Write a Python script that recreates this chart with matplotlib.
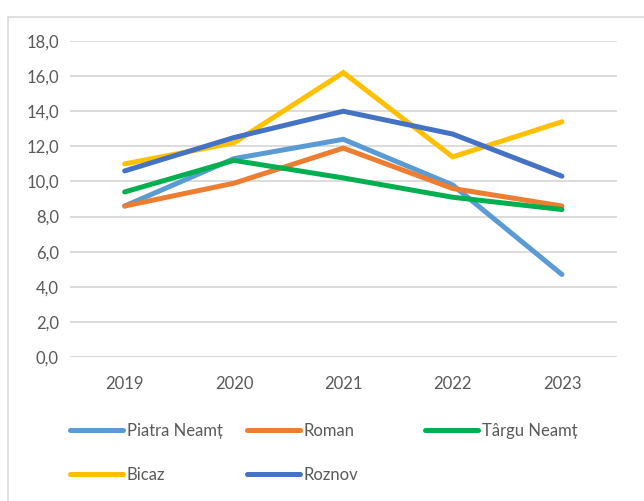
import matplotlib
matplotlib.use("Agg")
import matplotlib.pyplot as plt
from matplotlib.lines import Line2D
from matplotlib.patches import Rectangle
from matplotlib.ticker import FuncFormatter

years = ["2019", "2020", "2021", "2022", "2023"]
piatra_neamt = [8.6, 11.3, 12.4, 9.8, 4.7]
roman = [8.6, 9.9, 11.9, 9.6, 8.6]
targu_neamt = [9.4, 11.2, 10.2, 9.1, 8.4]
bicaz = [11.0, 12.2, 16.2, 11.4, 13.4]
roznov = [10.6, 12.5, 14.0, 12.7, 10.3]

series = [
    ("Piatra Neamț", piatra_neamt, "#5B9BD5"),
    ("Roman", roman, "#ED7D31"),
    ("Târgu Neamț", targu_neamt, "#00B050"),
    ("Bicaz", bicaz, "#FFC000"),
    ("Roznov", roznov, "#4472C4"),
]

plt.rcParams['font.family'] = ['Lato', 'DejaVu Sans']
text_color = "#595959"
fs = 12

fig = plt.figure(figsize=(6.44, 5.01), dpi=100)
# outer chart frame (partially cut)
fig.patches.append(Rectangle((8/644, -0.1), 1.0, 1 - 17/501 + 0.1, transform=fig.transFigure,
                             fill=False, edgecolor="#D9D9D9", linewidth=1.2))

ax = fig.add_axes([70/644, 1 - 357/501, (616.6 - 70)/644, (357 - 41)/501])
x = list(range(len(years)))
handles = {}
for name, vals, col in series:
    ln, = ax.plot(x, vals, color=col, linewidth=3.6, solid_capstyle='round',
                  solid_joinstyle='miter', label=name)
    handles[name] = ln

ax.set_xlim(-0.5, len(years) - 0.5)
ax.set_ylim(0, 18)
ax.set_yticks([0, 2, 4, 6, 8, 10, 12, 14, 16, 18])
ax.yaxis.set_major_formatter(FuncFormatter(lambda v, p: f"{v:.1f}".replace(".", ",")))
ax.set_xticks(x)
ax.set_xticklabels(years)
ax.grid(axis='y', color="#D9D9D9", linewidth=1.3)
ax.set_axisbelow(True)
for s in ax.spines.values():
    s.set_visible(False)
ax.tick_params(axis='both', length=0, labelsize=fs, colors=text_color)
ax.tick_params(axis='y', pad=8)
ax.tick_params(axis='x', pad=14)

cols = [
    (70, ["Piatra Neamț", "Bicaz"]),
    (247, ["Roman", "Roznov"]),
    (425, ["Târgu Neamț"]),
]
for xpix, names in cols:
    hs = [Line2D([], [], color=handles[n].get_color(), linewidth=3.6, solid_capstyle='round') for n in names]
    leg = fig.legend(hs, names, loc='upper left', bbox_to_anchor=(xpix/644, 1 - 423/501),
                     frameon=False, fontsize=fs, handlelength=3.2, handletextpad=0.2,
                     labelspacing=1.65, borderpad=0, borderaxespad=0, labelcolor=text_color)

fig.savefig("out.png", dpi=100)
